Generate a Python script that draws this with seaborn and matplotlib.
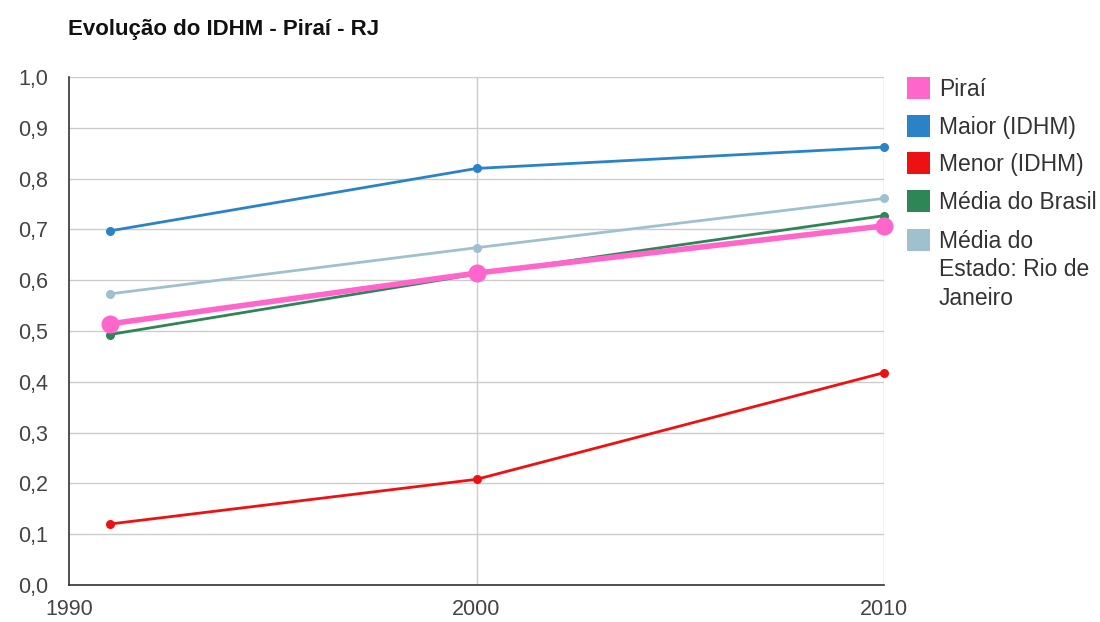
import pandas as pd
import seaborn as sns
import matplotlib.pyplot as plt
from matplotlib.patches import Rectangle

# Data
anos = [1991, 2000, 2010]
pirai = [0.514, 0.614, 0.707]
maior = [0.697, 0.820, 0.862]
menor = [0.120, 0.208, 0.418]
brasil = [0.493, 0.612, 0.727]
estado_rj = [0.573, 0.664, 0.761]

series = ["Piraí", "Maior (IDHM)", "Menor (IDHM)", "Média do Brasil",
          "Média do\nEstado: Rio de\nJaneiro"]
valores = [pirai, maior, menor, brasil, estado_rj]
cores = ["#ff66cc", "#2a83c6", "#ee1111", "#2e8555", "#9fc1cf"]

df = pd.DataFrame({
    "ano": anos * len(series),
    "idhm": [v for vals in valores for v in vals],
    "serie": [s for s in series for _ in anos],
})

sns.set_style("white")
plt.rcParams["font.family"] = ["Liberation Sans", "DejaVu Sans"]

W, H = 1100, 622
fig = plt.figure(figsize=(W / 100, H / 100), dpi=100)
ax = fig.add_axes([69 / W, 1 - 585 / H, (884 - 69) / W, (585 - 77) / H])

# background series first, Piraí on top
ordem = [1, 2, 4, 3, 0]
for i in ordem:
    sub = df[df["serie"] == series[i]]
    destaque = i == 0
    sns.lineplot(data=sub, x="ano", y="idhm", ax=ax, color=cores[i],
                 linewidth=4 if destaque else 2,
                 marker="o", markersize=13 if destaque else 6.5,
                 markeredgewidth=0, zorder=4 if destaque else 3,
                 clip_on=False)

ax.set_xlim(1990, 2010)
ax.set_ylim(0, 1.0)
ax.set_xticks([1990, 2000, 2010])
ax.set_yticks([i / 10 for i in range(11)])
ax.set_yticklabels([f"{i / 10:.1f}".replace(".", ",") for i in range(11)])
ax.tick_params(axis="both", length=0, labelsize=15.5, colors="#444444")
ax.tick_params(axis="y", pad=15)
ax.tick_params(axis="x", pad=10)
ax.set_xlabel("")
ax.set_ylabel("")

ax.grid(axis="y", color="#cccccc", linewidth=1)
ax.axvline(2000, color="#cccccc", linewidth=1, zorder=0)
ax.axvline(2010, color="#cccccc", linewidth=1, zorder=0)
for s in ["top", "right"]:
    ax.spines[s].set_visible(False)
for s in ["left", "bottom"]:
    ax.spines[s].set_color("#333333")
    ax.spines[s].set_linewidth(1.2)

fig.text(68 / W, 1 - 30 / H, "Evolução do IDHM - Piraí - RJ", fontsize=16,
         fontweight="bold", color="#111111", va="center")

# legend drawn by hand so the square sits on the first line of the label
leg_y = [88, 126, 163, 201, 240]
for cor, nome, y in zip(cores, series, leg_y):
    fig.patches.append(Rectangle((907 / W, 1 - (y + 11) / H), 23 / W, 22 / H,
                                 facecolor=cor, edgecolor="none",
                                 transform=fig.transFigure))
    fig.text(939 / W, 1 - (y - 10) / H, nome, fontsize=16.5, color="#333333",
             va="top", linespacing=1.3)

fig.savefig("out.png", dpi=100)
